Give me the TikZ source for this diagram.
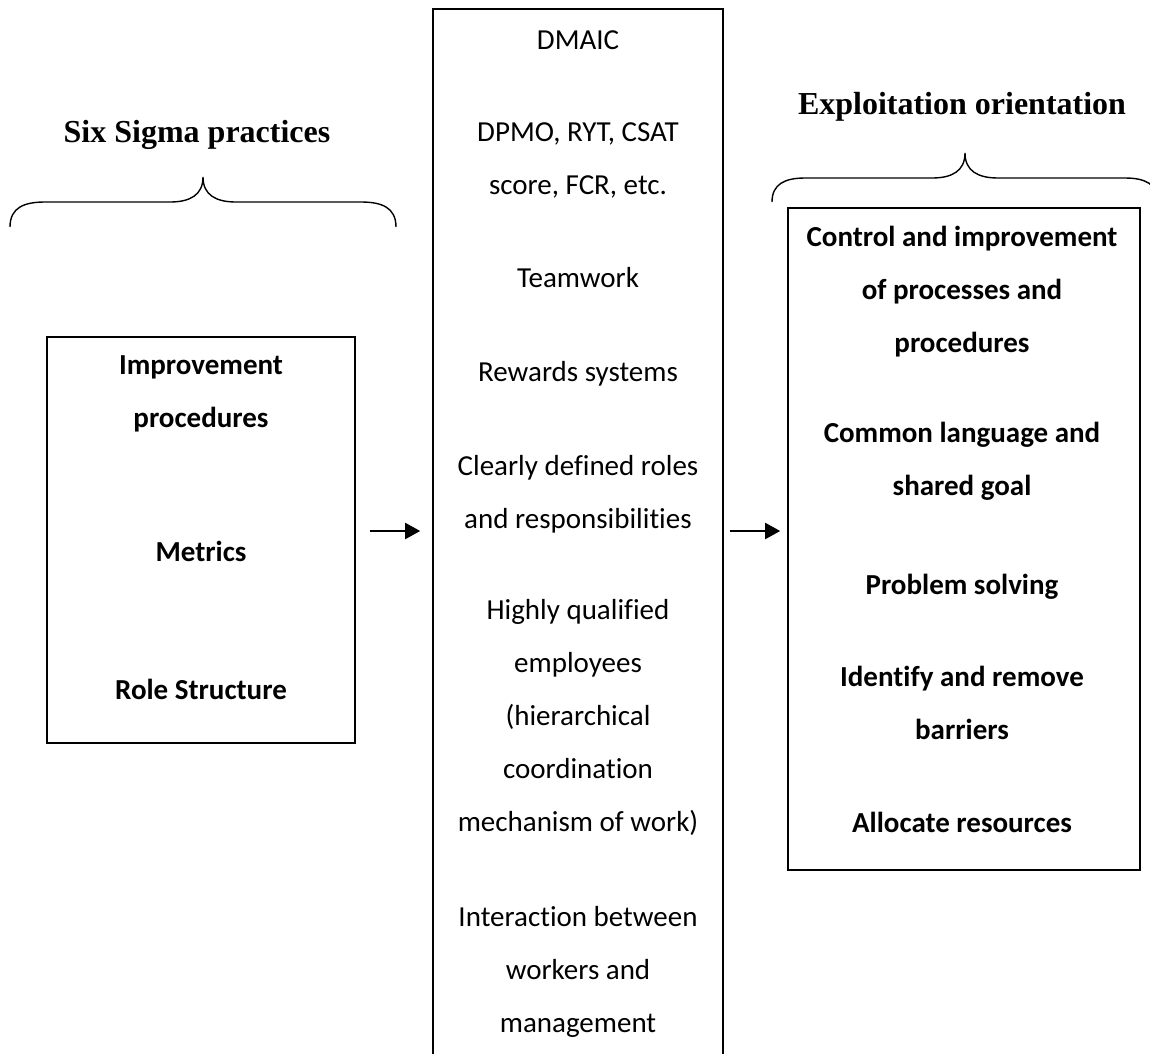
\documentclass[tikz,border=0pt]{standalone}
\usepackage{fontspec}
\setmainfont[Ligatures=NoCommon]{Carlito}
\newfontfamily\titlefont{Liberation Serif}
\usetikzlibrary{arrows.meta}
\begin{document}
\begin{tikzpicture}[x=1pt,y=-1pt,
  frame/.style={draw,line width=1.6pt,inner sep=0pt},
  % multi-line items sit on the baseline of their last line
  item/.style={anchor=base,align=center,inner sep=0pt,
    font=\fontsize{29}{53}\selectfont},
  bitem/.style={item,font=\fontsize{29}{53}\selectfont\bfseries},
  heading/.style={anchor=base,inner sep=0pt,
    font=\titlefont\fontsize{32}{38}\selectfont\bfseries},
  brace/.style={line width=1.4pt},
  arr/.style={line width=2pt,-{Triangle[length=15pt,width=16pt]}}]
\useasboundingbox (0,0) rectangle (1150,1053);

% boxes
\node[frame,minimum width=308pt,minimum height=406pt] (lbox) at (201,540) {};
\node[frame,minimum width=290pt,minimum height=1060pt] (mbox) at (578,539) {};
\node[frame,minimum width=352pt,minimum height=662pt] (rbox) at (964,539) {};

% headings and braces
\node[heading] (lhead) at (197,142) {Six Sigma practices};
\node[heading] (rhead) at (962,114) {Exploitation orientation};
\draw[brace] (10,227) .. controls (10,207) and (25,202) .. (45,202) -- (170,202)
  .. controls (190,202) and (203,195) .. (203,177)
  .. controls (203,195) and (216,202) .. (236,202) -- (361,202)
  .. controls (381,202) and (396,207) .. (396,227);
\draw[brace] (772,202) .. controls (772,184) and (785,178) .. (805,178) -- (932,178)
  .. controls (952,178) and (965,171) .. (965,153)
  .. controls (965,171) and (978,178) .. (998,178) -- (1125,178)
  .. controls (1145,178) and (1158,184) .. (1158,202);

% left column
\node[bitem] (l1) at (201,427) {Improvement\\procedures};
\node[bitem] (l2) at (201,561) {Metrics};
\node[bitem] (l3) at (201,699) {Role Structure};

% middle column
\node[item] (m1) at (578,49) {DMAIC};
\node[item] (m2) at (578,194) {DPMO, RYT, CSAT\\score, FCR, etc.};
\node[item] (m3) at (578,287) {Teamwork};
\node[item] (m4) at (578,381) {Rewards systems};
\node[item] (m5) at (578,528) {Clearly defined roles\\and responsibilities};
\node[item] (m6) at (578,831) {Highly qualified\\employees\\(hierarchical\\coordination\\mechanism of work)};
\node[item] (m7) at (578,1032) {Interaction between\\workers and\\management};

% right column
\node[bitem] (r1) at (962,352) {Control and improvement\\of processes and\\procedures};
\node[bitem] (r2) at (962,495) {Common language and\\shared goal};
\node[bitem] (r3) at (962,594) {Problem solving};
\node[bitem] (r4) at (962,739) {Identify and remove\\barriers};
\node[bitem] (r5) at (962,832) {Allocate resources};

% connectors
\coordinate (row) at (0,531);
\draw[arr] ([xshift=14pt]lbox.east |- row) -- ([xshift=-12pt]mbox.west |- row);
\draw[arr] ([xshift=6pt]mbox.east |- row) -- ([xshift=-7pt]rbox.west |- row);
\end{tikzpicture}
\end{document}
